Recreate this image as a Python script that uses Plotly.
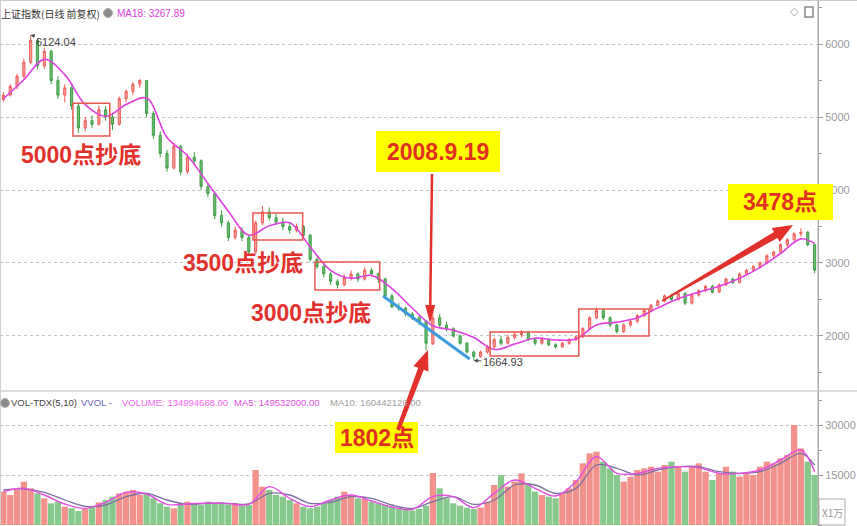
import math
import plotly.graph_objects as go

# ---------------- data ----------------
# one candle ~ 4 trading days, Sep 2007 .. Aug 2009, Shanghai Composite
opens = [5240, 5300, 5420, 5560, 5750, 6050, 5700, 5900, 5500, 5300,
         5400, 5150, 4850, 4950, 4900, 5100, 5000, 4900, 5250, 5350,
         5450, 5500, 5050, 4750, 4500, 4300, 4600, 4250, 4450, 4400,
         4050, 3950, 3650, 3550, 3350, 3450, 3350, 3150, 3550, 3700,
         3620, 3560, 3500, 3450, 3500, 3380, 3050, 2950, 2850, 2750,
         2700, 2800, 2850, 2780, 2900, 2850, 2780, 2550, 2400, 2380,
         2300, 2250, 2200, 1890, 2250, 2150, 2100, 2000, 1900, 1780,
         1720, 1780, 1850, 1950, 1900, 1980, 2020, 2050, 1950, 1900,
         1950, 1880, 1850, 1900, 1950, 1990, 2100, 2250, 2350, 2250,
         2150, 2060, 2150, 2200, 2280, 2350, 2420, 2480, 2550, 2500,
         2580, 2450, 2560, 2620, 2680, 2600, 2700, 2780, 2730, 2850,
         2900, 2950, 3000, 3100, 3150, 3250, 3320, 3400, 3420, 3250]
highs = [5340, 5450, 5590, 5800, 6124, 6080, 5950, 5920, 5560, 5450,
         5420, 5180, 5000, 5020, 5160, 5150, 5050, 5280, 5380, 5480,
         5520, 5510, 5080, 4800, 4550, 4650, 4620, 4500, 4520, 4420,
         4100, 3980, 3720, 3580, 3500, 3490, 3380, 3580, 3786, 3760,
         3680, 3620, 3560, 3540, 3520, 3400, 3080, 2980, 2880, 2780,
         2840, 2900, 2870, 2940, 2930, 2870, 2800, 2580, 2450, 2400,
         2330, 2280, 2220, 2330, 2300, 2200, 2120, 2020, 1920, 1800,
         1800, 1880, 1980, 2000, 2020, 2060, 2080, 2070, 1980, 1980,
         1960, 1900, 1920, 1970, 2010, 2120, 2270, 2390, 2370, 2270,
         2170, 2170, 2230, 2300, 2370, 2440, 2500, 2570, 2580, 2600,
         2600, 2580, 2640, 2700, 2700, 2720, 2800, 2800, 2870, 2920,
         2970, 3020, 3120, 3170, 3270, 3340, 3420, 3478, 3440, 3270]
lows = [5210, 5280, 5380, 5530, 5720, 5650, 5660, 5450, 5250, 5200,
        5100, 4780, 4800, 4850, 4880, 4950, 4820, 4880, 5200, 5300,
        5400, 5000, 4700, 4450, 4250, 4280, 4200, 4220, 4350, 4000,
        3900, 3600, 3500, 3300, 3320, 3300, 3120, 3120, 3520, 3580,
        3520, 3450, 3400, 3420, 3350, 3020, 2920, 2800, 2700, 2650,
        2680, 2760, 2740, 2760, 2820, 2730, 2520, 2380, 2340, 2270,
        2220, 2150, 1802, 1880, 2120, 2060, 1980, 1880, 1760, 1665,
        1700, 1760, 1830, 1870, 1880, 1950, 1980, 1930, 1870, 1880,
        1860, 1830, 1840, 1880, 1930, 1970, 2080, 2230, 2220, 2120,
        2030, 2040, 2120, 2180, 2260, 2330, 2400, 2460, 2480, 2480,
        2420, 2430, 2540, 2600, 2580, 2590, 2680, 2710, 2720, 2830,
        2880, 2920, 2980, 3060, 3130, 3220, 3300, 3360, 3230, 2860]
closes = [5300, 5420, 5560, 5750, 6050, 5700, 5900, 5500, 5300, 5400,
          5150, 4850, 4950, 4900, 5100, 5000, 4900, 5250, 5350, 5450,
          5500, 5050, 4750, 4500, 4300, 4600, 4250, 4450, 4400, 4050,
          3950, 3650, 3550, 3350, 3450, 3350, 3150, 3550, 3700, 3620,
          3560, 3500, 3450, 3500, 3380, 3050, 2950, 2850, 2750, 2700,
          2800, 2850, 2780, 2900, 2850, 2780, 2550, 2400, 2380, 2300,
          2250, 2200, 1900, 2250, 2150, 2100, 2000, 1900, 1780, 1720,
          1780, 1850, 1950, 1900, 1980, 2020, 2050, 1950, 1900, 1950,
          1880, 1850, 1900, 1950, 1990, 2100, 2250, 2350, 2250, 2150,
          2060, 2150, 2200, 2280, 2350, 2420, 2480, 2550, 2500, 2580,
          2450, 2560, 2620, 2680, 2600, 2700, 2780, 2730, 2850, 2900,
          2950, 3000, 3100, 3150, 3250, 3320, 3400, 3420, 3250, 2900]
volumes = [10000, 9000, 10500, 13000, 11000, 9500, 8000, 6500, 7000, 5500,
           5000, 4200, 4800, 5500, 6800, 7500, 8500, 9500, 10000, 10500,
           9000, 9500, 8000, 6500, 5500, 5000, 6000, 7000, 6500, 6000,
           7000, 6500, 6800, 6200, 6600, 5800, 6000, 16500, 11500, 10500,
           9000, 8500, 7500, 6500, 5500, 5000, 5500, 6500, 7500, 8500,
           10000, 9000, 8000, 7800, 7000, 6500, 6000, 5500, 5000, 4700,
           4400, 4800, 5800, 15600, 11000, 8000, 6500, 5800, 5200, 4800,
           5200, 7000, 12000, 15000, 11500, 13000, 15500, 12500, 10000, 9000,
           8500, 8000, 9500, 11000, 13500, 18500, 21500, 22000, 19000, 17000,
           15000, 13000, 14500, 16500, 17000, 17500, 16000, 18000, 19000, 17500,
           16000, 17500, 18500, 16000, 13500, 15500, 17500, 16000, 14500, 15500,
           15000, 17500, 19000, 18500, 20000, 21000, 30000, 23000, 19000, 15000]
# indicator lines read every 3rd candle (plus last)
ind_idx = list(range(0, 118, 3)) + [119]
ma18 = [5250, 5510, 5790, 5580, 5170, 5010, 5170, 5260, 4720, 4470,
        4090, 3710, 3380, 3510, 3550, 3220, 2900, 2790, 2830, 2650,
        2380, 2140, 2080, 1980, 1815, 1890, 1970, 1945, 1960, 2150,
        2190, 2250, 2385, 2510, 2600, 2680, 2790, 2940, 3130, 3330, 3268]
vol_ma5 = [10000, 11000, 9000, 6300, 5000, 6800, 9800, 9300, 6200, 6300,
           6600, 6400, 6200, 11500, 8000, 5500, 7500, 9000, 7200, 5400,
           4700, 8500, 8500, 5200, 9500, 13500, 11000, 8700, 13000, 20500,
           15500, 15500, 17000, 17500, 17200, 15500, 15500, 16500, 19500, 22500, 16000]
vol_ma10 = [10500, 10800, 9800, 7500, 5600, 6000, 8500, 9500, 7500, 6200,
            6500, 6500, 6300, 9500, 9000, 6500, 6800, 8500, 8000, 6000,
            5000, 7000, 8500, 6200, 7500, 12000, 12000, 9500, 11000, 18000,
            17000, 15000, 16500, 17500, 17500, 16000, 15500, 16000, 18500, 21500, 18000]
price_ticks = [2000, 3000, 4000, 5000, 6000]
vol_ticks = [15000, 30000]

# ---------------- layout constants ----------------
W, H = 857, 526
PW = 818            # plot area right edge (px)
SANS = "Liberation Sans, Arial, sans-serif"
CJK = "Noto Sans CJK SC, sans-serif"
BIG = "Liberation Sans, Arial, Noto Sans CJK SC, sans-serif"
RED = "#e2302b"
UP, DOWN = "#ef5b57", "#3f9f48"

def PX(x):
    return x / PW

def PY(y):
    return 1 - y / H

n = len(closes)
xs = list(range(n))

fig = go.Figure()
fig.add_trace(go.Candlestick(
    x=xs, open=opens, high=highs, low=lows, close=closes,
    increasing=dict(line=dict(color=UP, width=1), fillcolor="#f6a29c"),
    decreasing=dict(line=dict(color=DOWN, width=1), fillcolor="#6cbf6f"),
    whiskerwidth=0, xaxis="x", yaxis="y", showlegend=False, hoverinfo="skip"))
fig.add_trace(go.Scatter(x=ind_idx, y=ma18, mode="lines",
                         line=dict(color="#e040e0", width=1.6, shape="spline", smoothing=1.0),
                         xaxis="x", yaxis="y", showlegend=False, hoverinfo="skip"))

bar_colors = ["#f2928b" if c >= o else "#86c98a" for o, c in zip(opens, closes)]
fig.add_trace(go.Bar(x=xs, y=volumes, marker=dict(color=bar_colors, line=dict(width=0)),
                     width=0.92, xaxis="x2", yaxis="y2", showlegend=False, hoverinfo="skip"))
fig.add_trace(go.Scatter(x=ind_idx, y=vol_ma10, mode="lines",
                         line=dict(color="#7d6f9e", width=1.3, shape="spline"),
                         xaxis="x2", yaxis="y2", showlegend=False, hoverinfo="skip"))
fig.add_trace(go.Scatter(x=ind_idx, y=vol_ma5, mode="lines",
                         line=dict(color="#e44ce4", width=1.4, shape="spline"),
                         xaxis="x2", yaxis="y2", showlegend=False, hoverinfo="skip"))

price_dom = [1 - 390 / H, 1]
vol_dom = [0, 1 - 391 / H]
axis_common = dict(side="right", showline=True, linecolor="#aaaaaa", linewidth=1,
                   ticks="outside", ticklen=4, tickcolor="#999999", tickformat="d",
                   showgrid=True, gridcolor="#c4c4c4", griddash="dot", gridwidth=1,
                   zeroline=False, automargin=False,
                   tickfont=dict(family=SANS, size=11, color="#9a9a9a"))

fig.update_layout(
    width=W, height=H, margin=dict(l=0, r=W - PW, t=0, b=0),
    paper_bgcolor="white", plot_bgcolor="white", boxgap=0.55,
    xaxis=dict(domain=[0, 1], range=[-0.5, n - 0.5], showticklabels=False, showgrid=False,
               zeroline=False, anchor="y", rangeslider=dict(visible=False), automargin=False),
    xaxis2=dict(domain=[0, 1], range=[-0.5, n - 0.5], showticklabels=False, showgrid=False,
                zeroline=False, anchor="y2", matches="x", automargin=False),
    yaxis=dict(domain=price_dom, range=[1260, 6603], tickvals=price_ticks,
               minor=dict(ticks="outside", ticklen=3, dtick=500, tickcolor="#999999", showgrid=False),
               **axis_common),
    yaxis2=dict(domain=vol_dom, range=[-300, 40200], tickvals=vol_ticks,
                minor=dict(ticks="outside", ticklen=3, dtick=7500, tickcolor="#999999", showgrid=False),
                **axis_common),
)

shapes = []
# frame lines
shapes.append(dict(type="line", xref="paper", yref="paper", x0=0, x1=W / PW, y0=PY(0.5), y1=PY(0.5),
                   line=dict(color="#cccccc", width=1)))
shapes.append(dict(type="line", xref="paper", yref="paper", x0=0, x1=W / PW, y0=PY(391), y1=PY(391),
                   line=dict(color="#cfcfcf", width=1.5)))
shapes.append(dict(type="line", xref="paper", yref="paper", x0=1, x1=1, y0=0, y1=1,
                   line=dict(color="#aaaaaa", width=1)))
shapes.append(dict(type="line", xref="paper", yref="paper", x0=PX(0.5), x1=PX(0.5), y0=0, y1=1,
                   line=dict(color="#d0d0d0", width=1)))

# red rectangles around the "bottom-fishing" zones (candle index / price)
boxes = [(10.2, 15.6, 4740, 5190), (36.6, 43.9, 3315, 3685), (45.7, 55.2, 2630, 3014),
         (71.4, 84.4, 1726, 2055), (84.4, 94.7, 2000, 2370)]
for x0, x1, y0, y1 in boxes:
    shapes.append(dict(type="rect", xref="x", yref="y", x0=x0, x1=x1, y0=y0, y1=y1,
                       line=dict(color="#e8574f", width=1.5), fillcolor="rgba(0,0,0,0)"))
# blue falling trend line
shapes.append(dict(type="line", xref="x", yref="y", x0=55.7, y0=2548, x1=68.4, y1=1685,
                   line=dict(color="#3d9be0", width=3)))

# yellow label boxes
for x0, y0, x1, y1 in [(376, 131, 500, 172), (335, 422, 418, 453), (728, 184, 833, 220)]:
    shapes.append(dict(type="rect", xref="paper", yref="paper", x0=PX(x0), x1=PX(x1),
                       y0=PY(y1), y1=PY(y0), fillcolor="#ffff00", line=dict(width=0)))


def arrow(x0, y0, x1, y1, w_tail, w_shaft, head_w, head_len, color=RED):
    dx, dy = x1 - x0, y1 - y0
    L = math.hypot(dx, dy)
    ux, uy = dx / L, dy / L
    nx, ny = -uy, ux
    bx, by = x1 - ux * head_len, y1 - uy * head_len
    pts = [(x0 + nx * w_tail / 2, y0 + ny * w_tail / 2),
           (bx + nx * w_shaft / 2, by + ny * w_shaft / 2),
           (bx + nx * head_w / 2, by + ny * head_w / 2),
           (x1, y1),
           (bx - nx * head_w / 2, by - ny * head_w / 2),
           (bx - nx * w_shaft / 2, by - ny * w_shaft / 2),
           (x0 - nx * w_tail / 2, y0 - ny * w_tail / 2)]
    path = "M " + " L ".join(f"{PX(px):.5f},{PY(py):.5f}" for px, py in pts) + " Z"
    return dict(type="path", xref="paper", yref="paper", path=path,
                fillcolor=color, line=dict(width=0))

shapes.append(arrow(432, 174, 430, 323, 2.5, 2.5, 10, 18))
shapes.append(arrow(398, 430, 428, 350, 4, 6, 16, 20))
shapes.append(arrow(662, 301, 793, 225, 1.5, 7, 16, 20))

# header icons
shapes.append(dict(type="circle", xref="paper", yref="paper", x0=PX(103.5), x1=PX(112.5),
                   y0=PY(17.5), y1=PY(8.5), fillcolor="#8a8a8a", line=dict(color="#b0b0b0", width=1)))
shapes.append(dict(type="circle", xref="paper", yref="paper", x0=PX(0.5), x1=PX(9.5),
                   y0=PY(407.5), y1=PY(398.5), fillcolor="#8a8a8a", line=dict(color="#b0b0b0", width=1)))
shapes.append(dict(type="rect", xref="paper", yref="paper", x0=PX(805), x1=PX(813),
                   y0=PY(17), y1=PY(7), fillcolor="white", line=dict(color="#888888", width=1.5)))
shapes.append(dict(type="rect", xref="paper", yref="paper", x0=PX(819), x1=PX(845),
                   y0=PY(525), y1=PY(499), fillcolor="white", line=dict(color="#aaaaaa", width=1)))
fig.update_layout(shapes=shapes)

ann = []

def text(x, y, s, size, color, family, xanchor="left"):
    ann.append(dict(xref="paper", yref="paper", x=PX(x), y=PY(y), text=s, showarrow=False,
                    xanchor=xanchor, yanchor="middle", borderpad=0,
                    font=dict(size=size, color=color, family=family)))

text(0, 13, "上证指数(日线 前复权)", 10, "#333333", CJK)
text(116, 13, "MA18: 3267.89", 10, "#e040e0", SANS)
text(794, 12, "◇", 11, "#999999", "DejaVu Sans", "center")
text(10, 402, "VOL-TDX(5,10)", 9.5, "#444444", SANS)
text(80, 402, "VVOL -", 9.5, "#6a5fb8", SANS)
text(121, 402, "VOLUME: 134994688.00", 9.5, "#ee66ee", SANS)
text(233, 402, "MA5: 149532000.00", 9.5, "#e050e0", SANS)
text(329, 402, "MA10: 160442128.00", 9.5, "#a0a0a0", SANS)
text(832, 512, "X1万", 10, "#999999", CJK, "center")

text(81, 155, "<b>5000点抄底</b>", 23, RED, BIG, "center")
text(243, 263, "<b>3500点抄底</b>", 23, RED, BIG, "center")
text(311, 313, "<b>3000点抄底</b>", 23, RED, BIG, "center")
text(438, 152, "<b>2008.9.19</b>", 23, "#e03020", BIG, "center")
text(377, 438, "<b>1802点</b>", 23, "#e03020", BIG, "center")
text(780, 202, "<b>3478点</b>", 23, "#e03020", BIG, "center")

# price extreme labels with small arrows
ann.append(dict(xref="x", yref="y", x=4, y=6124, text="6124.04", showarrow=True,
                ax=25, ay=7, arrowhead=2, arrowsize=0.8, arrowwidth=1, arrowcolor="#444444",
                font=dict(size=11, color="#444444", family=SANS)))
ann.append(dict(xref="x", yref="y", x=69, y=1665, text="1664.93", showarrow=True,
                ax=29, ay=2, arrowhead=2, arrowsize=0.8, arrowwidth=1, arrowcolor="#444444",
                font=dict(size=11, color="#444444", family=SANS)))
fig.update_layout(annotations=ann)

fig.write_html("out.html", config={"displayModeBar": False},
               post_script="document.body.style.margin='0px';")
